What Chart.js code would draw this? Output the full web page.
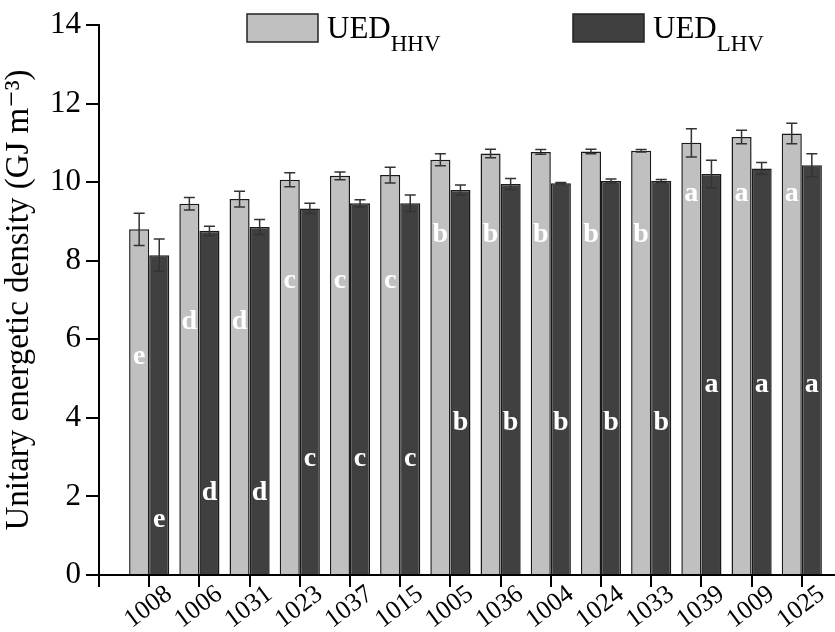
<!DOCTYPE html>
<html>
<head>
<meta charset="utf-8">
<script src="https://cdn.jsdelivr.net/npm/chart.js@4"></script>
<style>
  html, body { margin: 0; padding: 0; background: #fff; overflow: hidden; }
  #wrap { width: 852px; height: 632px; }
</style>
</head>
<body>
<div id="wrap"><canvas id="UEDCHART" width="852" height="632"></canvas></div>
<script>
const samples = ['1008', '1006', '1031', '1023', '1037', '1015', '1005', '1036', '1004', '1024', '1033', '1039', '1009', '1025'];
const uedHHV = [8.80, 9.45, 9.57, 10.06, 10.16, 10.18, 10.57, 10.73, 10.77, 10.78, 10.80, 11.00, 11.15, 11.24];
const errHHV = [0.41, 0.16, 0.20, 0.18, 0.10, 0.20, 0.15, 0.11, 0.06, 0.06, 0.03, 0.36, 0.17, 0.26];
const uedLHV = [8.14, 8.76, 8.86, 9.33, 9.46, 9.46, 9.80, 9.95, 9.97, 10.03, 10.03, 10.21, 10.35, 10.43];
const errLHV = [0.41, 0.12, 0.19, 0.13, 0.09, 0.21, 0.13, 0.14, 0.02, 0.05, 0.04, 0.35, 0.15, 0.29];
const lettersHHV = ['e', 'd', 'd', 'c', 'c', 'c', 'b', 'b', 'b', 'b', 'b', 'a', 'a', 'a'];
const lettersLHV = ['e', 'd', 'd', 'c', 'c', 'c', 'b', 'b', 'b', 'b', 'b', 'a', 'a', 'a'];
const yTicks = [0, 2, 4, 6, 8, 10, 12, 14];

const SERIF = '"Liberation Serif", "DejaVu Serif", serif';

// empty slot at both ends so the first bar sits one category away from the y axis
const pad = arr => [null, ...arr, null];

// where the significance letters sit inside the bars (data units)
const letterLevel = [
  { a: 9.7, b: 8.65, c: 7.5, d: 6.45, e: 5.56 },
  { a: 4.85, b: 3.88, c: 2.95, d: 2.1, e: 1.4 }
];

const errorBars = {
  id: 'errorBars',
  afterDatasetsDraw(chart) {
    const c = chart.ctx, y = chart.scales.y;
    const errs = [pad(errHHV), pad(errLHV)];
    c.save();
    c.strokeStyle = '#333';
    c.lineWidth = 1.5;
    chart.data.datasets.forEach((ds, i) => {
      chart.getDatasetMeta(i).data.forEach((bar, j) => {
        const v = ds.data[j];
        if (v == null) return;
        const top = y.getPixelForValue(v + errs[i][j]);
        const bot = y.getPixelForValue(v - errs[i][j]);
        c.beginPath();
        c.moveTo(bar.x, top); c.lineTo(bar.x, bot);
        c.moveTo(bar.x - 5.5, top); c.lineTo(bar.x + 5.5, top);
        c.moveTo(bar.x - 5.5, bot); c.lineTo(bar.x + 5.5, bot);
        c.stroke();
      });
    });
    c.restore();
  }
};

const letters = {
  id: 'letters',
  afterDatasetsDraw(chart) {
    const c = chart.ctx, y = chart.scales.y;
    const lts = [pad(lettersHHV), pad(lettersLHV)];
    c.save();
    c.fillStyle = '#fff';
    c.font = 'bold 28px ' + SERIF;
    c.textAlign = 'center';
    c.textBaseline = 'middle';
    chart.data.datasets.forEach((ds, i) => {
      chart.getDatasetMeta(i).data.forEach((bar, j) => {
        const l = lts[i][j];
        if (!l) return;
        c.fillText(l, bar.x, y.getPixelForValue(letterLevel[i][l]));
      });
    });
    c.restore();
  }
};

const subLegend = {
  id: 'subLegend',
  afterDraw(chart) {
    const c = chart.ctx;
    const spots = [247, 573];
    c.save();
    chart.data.datasets.forEach((ds, i) => {
      const x = spots[i];
      c.fillStyle = ds.backgroundColor;
      c.strokeStyle = '#222';
      c.lineWidth = 1.5;
      c.fillRect(x, 14, 71, 28);
      c.strokeRect(x, 14, 71, 28);
      c.fillStyle = '#000';
      c.textBaseline = 'alphabetic';
      c.textAlign = 'left';
      c.font = '31px ' + SERIF;
      c.fillText('UED', x + 80, 38);
      const w = c.measureText('UED').width;
      c.font = '23px ' + SERIF;
      c.fillText(ds.label, x + 80 + w, 51);
    });
    c.restore();
  }
};

new Chart(document.getElementById('UEDCHART'), {
  type: 'bar',
  data: {
    labels: pad(samples).map(s => s || ''),
    datasets: [{
      label: 'HHV',
      data: pad(uedHHV),
      backgroundColor: '#c0c0c0',
      borderColor: '#1a1a1a',
      borderWidth: 1.5,
      categoryPercentage: 0.8,
      barPercentage: 1.0
    }, {
      label: 'LHV',
      data: pad(uedLHV),
      backgroundColor: '#404040',
      borderColor: '#1a1a1a',
      borderWidth: 1.5,
      categoryPercentage: 0.8,
      barPercentage: 1.0
    }]
  },
  options: {
    responsive: false,
    animation: false,
    layout: { padding: { top: 25, right: 0, left: 0, bottom: 0 } },
    plugins: {
      legend: { display: false },
      tooltip: { enabled: false }
    },
    scales: {
      x: {
        offset: false,
        afterFit(scale) {
          scale.height = 57;
          scale.paddingLeft = 0;
          scale.paddingRight = 0;
        },
        grid: { offset: false, drawOnChartArea: false, color: '#000', tickLength: 12, lineWidth: 2 },
        border: { color: '#000', width: 2 },
        ticks: {
          color: '#000',
          font: { family: SERIF, size: 26 },
          minRotation: 37,
          maxRotation: 37,
          autoSkip: false,
          labelOffset: 20,
          padding: -8
        }
      },
      y: {
        min: 0,
        max: 14,
        afterFit(scale) { scale.width = 99; },
        afterBuildTicks(scale) { scale.ticks = yTicks.map(v => ({ value: v })); },
        grid: { drawOnChartArea: false, color: '#000', tickLength: 13, lineWidth: 2 },
        border: { color: '#000', width: 2 },
        ticks: {
          color: '#000',
          font: { family: SERIF, size: 31 },
          padding: 5
        },
        title: {
          display: true,
          text: 'Unitary energetic density (GJ m\u207B\u00B3)',
          color: '#000',
          font: { family: SERIF, size: 33 },
          padding: 0
        }
      }
    }
  },
  plugins: [errorBars, letters, subLegend]
});
</script>
</body>
</html>
